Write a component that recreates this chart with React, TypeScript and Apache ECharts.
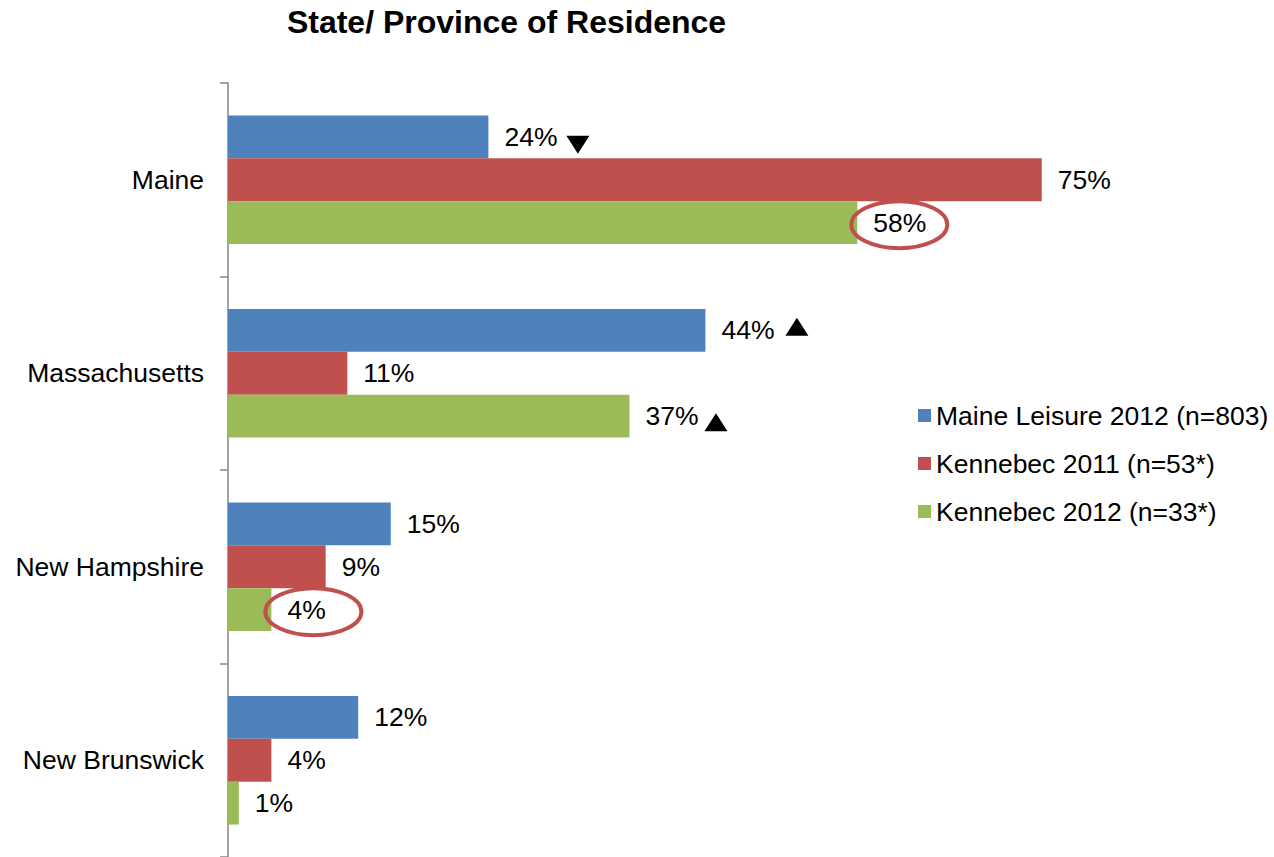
import React, { useEffect, useRef } from "react";
import * as echarts from "echarts";

const title = "State/ Province of Residence";
const categories = ["Maine", "Massachusetts", "New Hampshire", "New Brunswick"];
const seriesNames = ["Maine Leisure 2012 (n=803)", "Kennebec 2011 (n=53*)", "Kennebec 2012 (n=33*)"];
const maineLeisure2012 = [24, 44, 15, 12];
const kennebec2011 = [75, 11, 9, 4];
const kennebec2012 = [58, 37, 4, 1];
const colors = ["#4F81BD", "#C0504D", "#9BBB59"];

// annotations: [seriesIndex, categoryIndex]
const circled = [
  [2, 0],
  [2, 2],
];
// triangles: [seriesIndex, categoryIndex, direction]
const arrows: [number, number, "up" | "down"][] = [
  [0, 0, "down"],
  [0, 1, "up"],
  [2, 1, "up"],
];

const FONT = "'Liberation Sans', Arial, sans-serif";
const CAT_GAP = 0.335;
const FS = 26.5;

export default function App() {
  const ref = useRef<HTMLDivElement>(null);
  useEffect(() => {
    if (!ref.current) return;
    const chart = echarts.init(ref.current, null, { renderer: "svg" });
    const data = [maineLeisure2012, kennebec2011, kennebec2012];
    chart.setOption({
      animation: false,
      textStyle: { fontFamily: FONT },
      title: {
        text: title,
        left: 501.5,
        textAlign: "center",
        top: 1,
        textStyle: { fontSize: 32, fontWeight: "bold", color: "#000", fontFamily: FONT },
      },
      legend: {
        orient: "vertical",
        left: 913,
        top: 397,
        itemWidth: 13,
        itemHeight: 13,
        itemGap: 21,
        icon: "rect",
        textStyle: { fontSize: FS, color: "#000", fontFamily: FONT, lineHeight: 26 },
        data: seriesNames,
      },
      grid: { left: 228, top: 83, width: 868, height: 776 },
      xAxis: { type: "value", min: 0, max: 80, show: false, splitLine: { show: false } },
      yAxis: {
        type: "category",
        data: categories,
        inverse: true,
        axisLine: { show: true, lineStyle: { color: "#868686", width: 1.5 } },
        axisTick: { show: true, length: 8, lineStyle: { color: "#868686", width: 1.5 } },
        axisLabel: { fontSize: FS, color: "#000", margin: 24, fontFamily: FONT },
      },
      series: seriesNames.map((name, i) => ({
        name,
        type: "bar",
        data: data[i],
        barGap: "0%",
        barCategoryGap: CAT_GAP * 100 + "%",
        itemStyle: { color: colors[i] },
        label: {
          show: true,
          position: "right",
          distance: 16,
          formatter: "{c}%",
          fontSize: FS,
          color: "#000",
          fontFamily: FONT,
        },
      })),
    });

    const y0 = chart.convertToPixel({ yAxisIndex: 0 }, 0) as number;
    const y1 = chart.convertToPixel({ yAxisIndex: 0 }, 1) as number;
    const band = y1 - y0;
    const barW = (band * (1 - CAT_GAP)) / 3;
    const barCenterY = (s: number, c: number) =>
      (chart.convertToPixel({ yAxisIndex: 0 }, c) as number) + (s - 1) * barW;
    const barEndX = (s: number, c: number) =>
      chart.convertToPixel({ xAxisIndex: 0 }, data[s][c]) as number;

    const graphics: any[] = [];
    circled.forEach(([s, c]) => {
      graphics.push({
        type: "ellipse",
        shape: { cx: barEndX(s, c) + 42, cy: barCenterY(s, c) + 2, rx: 48, ry: 23.5 },
        style: { fill: "none", stroke: "#C0504D", lineWidth: 4 },
        z: 10,
      });
    });
    const arrowOffsets: Record<string, [number, number]> = {
      "0-0": [78, 8],
      "0-1": [80, -3.5],
      "2-1": [75, 6],
    };
    arrows.forEach(([s, c, dir]) => {
      const [dx, dy] = arrowOffsets[s + "-" + c];
      const x = barEndX(s, c) + dx;
      const cy = barCenterY(s, c) + dy;
      const w = 23;
      const h = 18;
      const pts =
        dir === "down"
          ? [[x, cy - h / 2], [x + w, cy - h / 2], [x + w / 2, cy + h / 2]]
          : [[x, cy + h / 2], [x + w, cy + h / 2], [x + w / 2, cy - h / 2]];
      graphics.push({ type: "polygon", shape: { points: pts }, style: { fill: "#000" }, z: 10 });
    });
    chart.setOption({ graphic: graphics });

    return () => chart.dispose();
  }, []);
  return (
    <div
      ref={ref}
      style={{ position: "absolute", left: 0, top: 0, width: 1274, height: 857, background: "#fff" }}
    />
  );
}
